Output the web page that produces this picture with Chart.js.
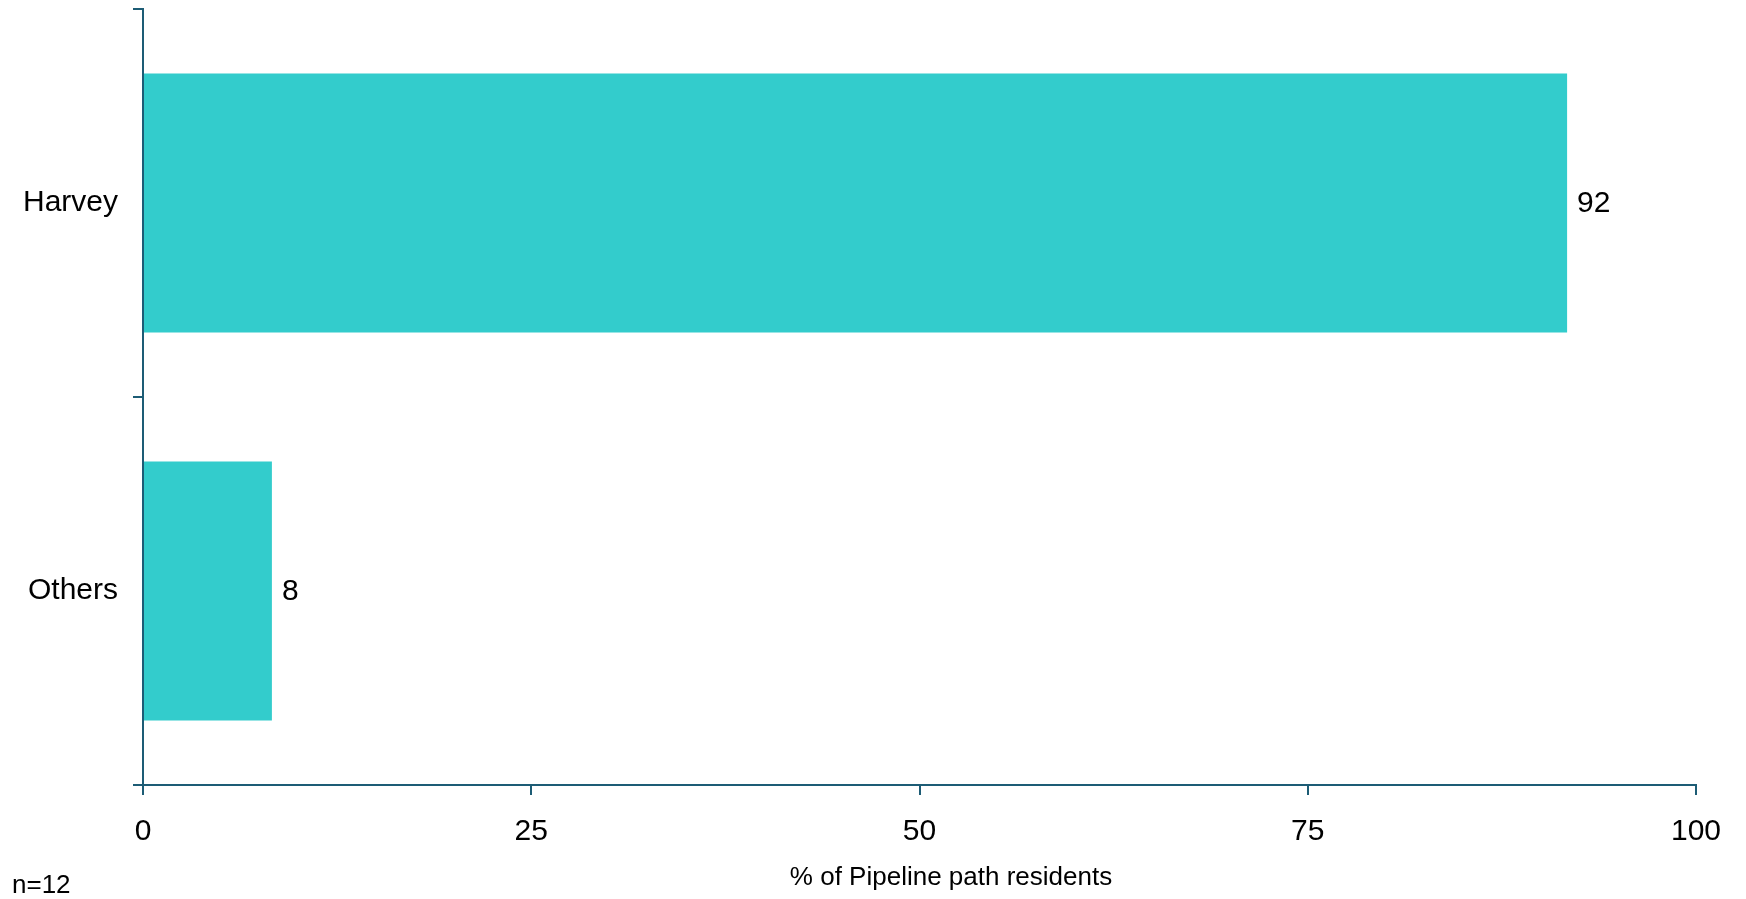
<!DOCTYPE html>
<html>
<head>
<meta charset="utf-8">
<script src="https://cdn.jsdelivr.net/npm/chart.js@4/dist/chart.umd.min.js"></script>
<style>
  html, body { margin: 0; padding: 0; background: #fff; }
  #wrap { position: relative; width: 1746px; height: 899px; }
  #note {
    position: absolute; left: 12px; top: 869px;
    font: 26px "Liberation Sans", Arial, sans-serif; color: #000; line-height: 30px;
  }
</style>
</head>
<body>
<div id="wrap">
  <canvas id="chart" width="1746" height="899"></canvas>
  <div id="note">n=12</div>
</div>
<script>
const categories = ['Harvey', 'Others'];
const shares = [91.7, 8.3];
const xTicks = [0, 25, 50, 75, 100];
const axisTitle = '% of Pipeline path residents';

const AXIS = '#1d5c75';
const BAR = '#33cccc';
const FONT = '"Liberation Sans", Arial, sans-serif';

const valueLabels = {
  id: 'valueLabels',
  afterDatasetsDraw(chart) {
    const ctx = chart.ctx;
    const meta = chart.getDatasetMeta(0);
    ctx.save();
    ctx.font = '30px ' + FONT;
    ctx.fillStyle = '#000';
    ctx.textBaseline = 'middle';
    ctx.textAlign = 'left';
    meta.data.forEach((bar, i) => {
      ctx.fillText(Math.round(shares[i]), bar.x + 10, bar.y + 1);
    });
    ctx.restore();
  }
};

const bottomTitle = {
  id: 'bottomTitle',
  afterDraw(chart) {
    const ctx = chart.ctx;
    ctx.save();
    ctx.font = '26px ' + FONT;
    ctx.fillStyle = '#000';
    ctx.textAlign = 'center';
    ctx.textBaseline = 'alphabetic';
    ctx.fillText(axisTitle, 951, 885);
    ctx.restore();
  }
};

new Chart(document.getElementById('chart'), {
  type: 'bar',
  data: {
    labels: categories,
    datasets: [{
      data: shares,
      backgroundColor: BAR,
      borderWidth: 0,
      categoryPercentage: 1,
      barPercentage: 0.667
    }]
  },
  options: {
    indexAxis: 'y',
    responsive: false,
    animation: false,
    layout: { padding: { top: 9, right: 50, left: 0, bottom: 0 } },
    plugins: {
      legend: { display: false },
      tooltip: { enabled: false }
    },
    scales: {
      x: {
        min: 0,
        max: 100,
        afterBuildTicks(scale) {
          scale.ticks = xTicks.map((v) => ({ value: v }));
        },
        afterFit(scale) {
          scale.height = 114;
          scale.paddingLeft = 0;
          scale.paddingRight = 0;
        },
        border: { color: AXIS, width: 2 },
        grid: { drawOnChartArea: false, drawTicks: true, tickLength: 10, color: AXIS, lineWidth: 2 },
        ticks: { color: '#000', font: { family: FONT, size: 30 }, padding: 19, maxRotation: 0 }
      },
      y: {
        afterFit(scale) {
          scale.width = 143;
          scale.paddingTop = 0;
          scale.paddingBottom = 0;
        },
        border: { color: AXIS, width: 2 },
        grid: { offset: true, drawOnChartArea: false, drawTicks: true, tickLength: 10, color: AXIS, lineWidth: 2 },
        ticks: { color: '#000', font: { family: FONT, size: 30 }, padding: 15 }
      }
    }
  },
  plugins: [valueLabels, bottomTitle]
});
</script>
</body>
</html>
